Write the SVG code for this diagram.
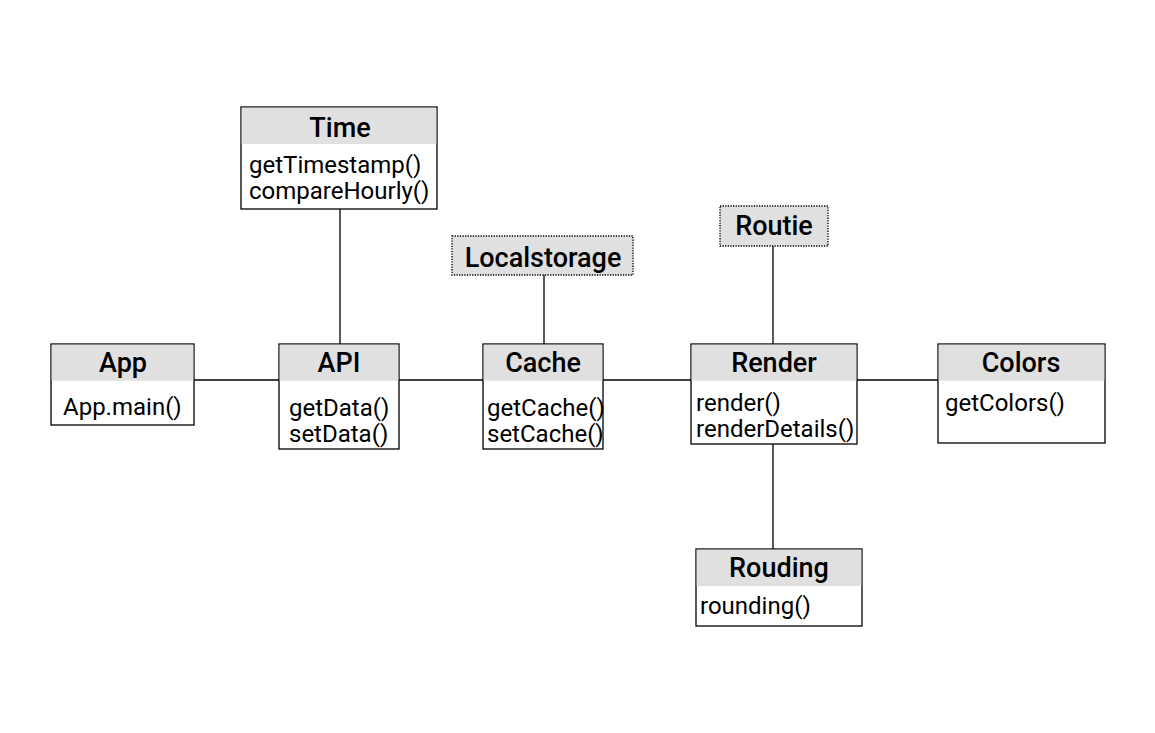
<svg xmlns="http://www.w3.org/2000/svg" width="1155" height="733" viewBox="0 0 1155 733">
<style>
.box{fill:#ffffff;stroke:#000000;stroke-width:1.3}
.hdr{fill:#e0e0e0}
.dot{fill:#e0e0e0;stroke:#000000;stroke-width:1.3;stroke-dasharray:1.3 1.3}
.t{font-family:Roboto,"Liberation Sans",sans-serif;font-size:27px;font-weight:500;fill:#000;text-anchor:middle}
.m{font-family:Roboto,"Liberation Sans",sans-serif;font-size:24px;fill:#000}
.c{stroke:#000;stroke-width:1.3;fill:none}
</style>
<rect width="1155" height="733" fill="#ffffff"/>
<g id="connectors">
<line class="c" x1="194" y1="380" x2="279" y2="380"/>
<line class="c" x1="399" y1="380" x2="483" y2="380"/>
<line class="c" x1="603" y1="380" x2="691" y2="380"/>
<line class="c" x1="857" y1="380" x2="938" y2="380"/>
<line class="c" x1="340" y1="209" x2="340" y2="344"/>
<line class="c" x1="544" y1="275" x2="544" y2="344"/>
<line class="c" x1="773" y1="246" x2="773" y2="344"/>
<line class="c" x1="773" y1="444" x2="773" y2="549"/>
</g>
<g id="time">
<rect class="box" x="241" y="107" width="196" height="102"/>
<rect class="hdr" x="241.7" y="107.7" width="194.6" height="36.3"/>
<text class="t" x="340" y="136.5">Time</text>
<text class="m" x="249" y="173">getTimestamp()</text>
<text class="m" x="249" y="199">compareHourly()</text>
</g>
<g id="localstorage">
<rect class="dot" x="452" y="236" width="181" height="39"/>
<text class="t" x="543" y="267">Localstorage</text>
</g>
<g id="routie">
<rect class="dot" x="720" y="206" width="108" height="40"/>
<text class="t" x="774" y="235">Routie</text>
</g>
<g id="app">
<rect class="box" x="51" y="344" width="143" height="81"/>
<rect class="hdr" x="51.7" y="344.7" width="141.6" height="36"/>
<text class="t" x="123" y="372">App</text>
<text class="m" x="63" y="415">App.main()</text>
</g>
<g id="api">
<rect class="box" x="279" y="344" width="120" height="105"/>
<rect class="hdr" x="279.7" y="344.7" width="118.6" height="36"/>
<text class="t" x="339" y="372">API</text>
<text class="m" x="289" y="416">getData()</text>
<text class="m" x="289" y="442">setData()</text>
</g>
<g id="cache">
<rect class="box" x="483" y="344" width="120" height="105"/>
<rect class="hdr" x="483.7" y="344.7" width="118.6" height="36"/>
<text class="t" x="543" y="372">Cache</text>
<text class="m" x="487" y="416">getCache()</text>
<text class="m" x="487" y="442">setCache()</text>
</g>
<g id="render">
<rect class="box" x="691" y="344" width="166" height="100"/>
<rect class="hdr" x="691.7" y="344.7" width="164.6" height="36"/>
<text class="t" x="774" y="372">Render</text>
<text class="m" x="696" y="411">render()</text>
<text class="m" x="696" y="437">renderDetails()</text>
</g>
<g id="colors">
<rect class="box" x="938" y="344" width="167" height="99"/>
<rect class="hdr" x="938.7" y="344.7" width="165.6" height="36"/>
<text class="t" x="1021" y="372">Colors</text>
<text class="m" x="945" y="411">getColors()</text>
</g>
<g id="rouding">
<rect class="box" x="696" y="549" width="166" height="77"/>
<rect class="hdr" x="696.7" y="549.7" width="164.6" height="36.3"/>
<text class="t" x="779" y="577">Rouding</text>
<text class="m" x="700" y="614">rounding()</text>
</g>
</svg>
